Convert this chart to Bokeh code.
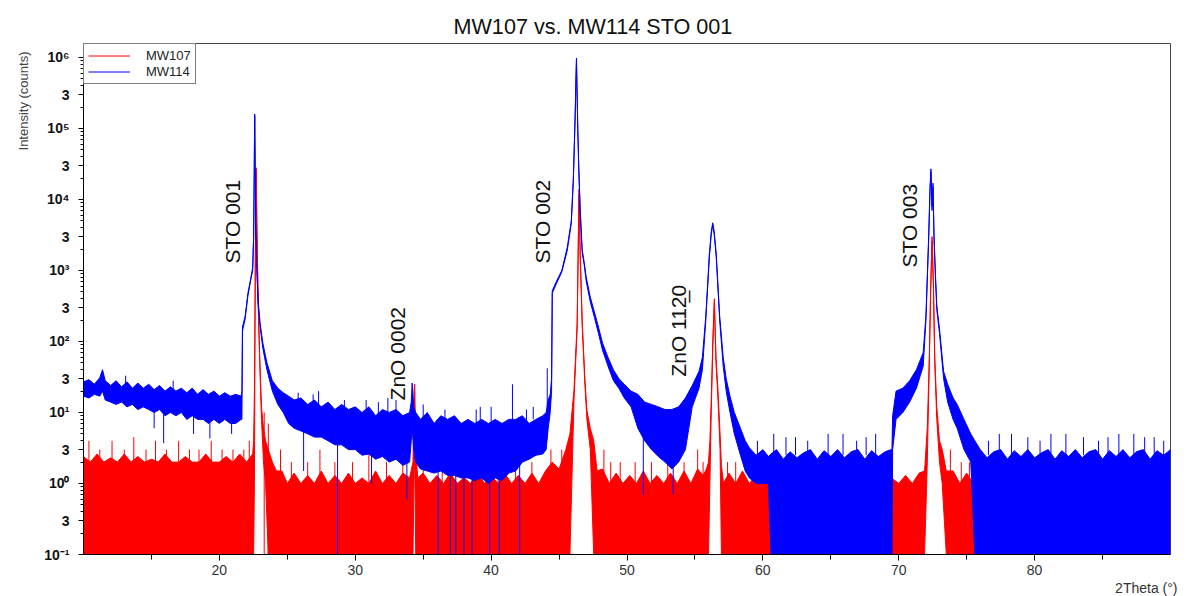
import math
from bokeh.plotting import figure
from bokeh.models import Range1d, FixedTicker, CustomJSTickFormatter, Label, Legend, LegendItem, Title
from bokeh.embed import file_html
from bokeh.resources import INLINE

FONT = "Liberation Sans"
TITLE = "MW107 vs. MW114 STO 001"
Y_LABEL = "Intensity (counts)"
X_LABEL = "2Theta (\u00b0)"
SERIES = ["MW107", "MW114"]

# ---------------- MW114 (blue): noise envelope (lo/hi) ----------------
mw114_x = [
    10.0, 10.4, 10.8, 11.2, 11.4, 11.6, 12.0, 12.4, 12.8, 13.2, 13.6, 14.0, 14.4, 14.8, 15.2, 15.6,
    16.0, 16.4, 16.8, 17.2, 17.6, 18.0, 18.4, 18.8, 19.2, 19.6, 20.0, 20.4, 20.8, 21.2, 21.6,
    21.66, 21.70, 21.9, 22.1, 22.3, 22.45, 22.52, 22.56, 22.60, 22.64, 22.68, 22.75, 22.85, 23.0,
    23.2, 23.5, 23.9, 24.3, 24.7,
    25.1, 25.5, 26.0, 26.5, 27.0, 27.5, 28.0, 28.5, 29.0, 29.5, 30.0, 30.5, 31.0, 31.5, 32.0, 32.5,
    33.0, 33.5, 34.0, 34.12, 34.19, 34.3, 34.45, 34.8, 35.3, 35.8, 36.3, 36.8, 37.3, 37.8, 38.3,
    38.8, 39.3, 39.8, 40.3, 40.8, 41.3, 41.8, 42.3, 42.8, 43.3, 43.8, 44.05,
    44.2, 44.35, 44.45, 44.5, 44.8, 45.2, 45.6, 45.9, 46.05, 46.18, 46.24, 46.28, 46.32, 46.38,
    46.45, 46.55, 46.7, 46.85, 47.0, 47.3, 47.6, 47.9, 48.2, 48.6, 49.0, 49.4, 49.8, 50.3, 50.8,
    51.3, 51.8, 52.3, 52.8, 53.3, 53.8,
    54.3, 54.8, 55.3, 55.55, 55.8, 56.06, 56.2, 56.31, 56.42, 56.57, 56.82, 57.08, 57.3, 57.58,
    57.9, 58.35, 58.7,
    59.0, 59.5, 60.0, 60.4, 60.6, 61.0, 61.5, 62.0, 62.5, 63.0, 63.5, 64.0, 64.5, 65.0, 65.5, 66.0,
    66.5, 67.0, 67.5, 68.0, 68.5, 69.0, 69.45,
    69.5, 69.55, 69.8, 70.3, 70.8, 71.3, 71.8, 72.0, 72.2, 72.3, 72.37, 72.45, 72.52, 72.6, 72.7,
    72.8, 73.0, 73.3, 73.6, 74.0, 74.3, 74.8, 75.3, 75.6,
    76.0, 76.5, 77.0, 77.5, 78.0, 78.5, 79.0, 79.5, 80.0, 80.5, 81.0, 81.5, 82.0, 82.5, 83.0, 83.5,
    84.0, 84.5, 85.0, 85.5, 86.0, 86.5, 87.0, 87.5, 88.0, 88.5, 89.0, 89.5, 90.0,
]
mw114_hi = [
    27, 29, 25, 31, 40, 28, 24, 28, 23, 27, 22, 26, 22, 25, 21, 24,
    20, 23, 20, 22, 19, 22, 18, 21, 18, 20, 17, 19, 17, 18, 17,
    20, 160, 230, 480, 760, 1100, 3000, 2e4, 1.6e5, 2.5e4, 4500, 1200, 380, 180,
    95, 50, 28, 22, 19,
    17, 15, 16, 13, 15, 12, 14, 11, 13, 11, 12, 10, 12, 9, 11, 10,
    11, 9, 10, 14, 26, 12, 10, 8, 10, 7, 9, 8, 9, 7, 8,
    7, 8, 7, 8, 7, 8, 8, 9, 7, 8, 9, 10,
    15, 18, 30, 520, 700, 1000, 2100, 5000, 2e4, 1.5e5, 5e5, 9.8e5, 4e5, 1e5,
    3e4, 8000, 2000, 1300, 800, 420, 260, 160, 95, 60, 40, 30, 25, 20, 18,
    14, 13, 12, 11, 11, 12,
    16, 24, 38, 60, 230, 1700, 3500, 4700, 3500, 1700, 230, 60, 30, 17,
    10, 6, 4,
    3.2, 2.5, 3, 2.4, 2.6, 3, 2.2, 2.8, 2.3, 2.7, 3, 2.2, 2.9, 2.4, 3, 2.3,
    2.8, 3, 2.2, 2.9, 2.4, 2.8, 3,
    3, 9, 20, 22, 28, 40, 70, 230, 3000, 1.5e4, 2.7e4, 8000, 1.7e4, 3000, 900,
    320, 150, 38, 25, 16, 13, 8, 5, 4,
    3, 2.3, 2.8, 3, 2.2, 2.9, 2.4, 3, 2.3, 2.7, 3, 2.2, 2.9, 2.4, 3, 2.3,
    2.8, 3, 2.2, 2.9, 2.4, 3, 2.3, 2.8, 3, 2.2, 2.9, 2.5, 3,
]
mw114_lo = [
    17, 16, 18, 17, 20, 15, 14, 13, 14, 12, 13, 11, 12, 11, 10, 11,
    9, 10, 9, 10, 8, 9, 8, 8, 7, 8, 7, 8, 7, 7, 8,
    8, 140, 210, 440, 720, 1000, 2800, 1.8e4, 1.5e5, 2.2e4, 4000, 1100, 340, 160,
    80, 40, 20, 13, 10,
    7, 6, 5.5, 5, 4.5, 4.5, 4, 3.5, 3.5, 3, 3, 2.5, 2.6, 2.2, 2.4, 2,
    2.2, 1.8, 2, 4, 6, 3, 2, 1.6, 1.5, 1.4, 1.5, 1.3, 1.3, 1.2, 1.2,
    1.1, 1.2, 1, 1.2, 1.1, 1.4, 1.5, 2, 2.2, 2.5, 2.6, 3,
    6, 10, 20, 480, 650, 950, 1900, 4600, 1.8e4, 1.3e5, 4e5, 9e5, 3.5e5, 9e4,
    2.6e4, 7000, 1800, 1200, 700, 360, 220, 130, 75, 45, 28, 22, 16, 12, 6,
    4, 3, 2.4, 2, 1.6, 2,
    3, 12, 22, 40, 200, 1500, 3200, 4400, 3200, 1500, 200, 45, 20, 10,
    5, 2.5, 1.5,
    1.2, 1, 1, 1, 0.1, 0.1, 0.1, 0.1, 0.1, 0.1, 0.1, 0.1, 0.1, 0.1, 0.1, 0.1,
    0.1, 0.1, 0.1, 0.1, 0.1, 0.1, 0.1,
    0.1, 3, 8, 10, 14, 22, 45, 200, 2600, 1.3e4, 2.4e4, 7000, 1.5e4, 2600, 800,
    280, 130, 30, 14, 8, 6, 3, 2, 0.1,
    0.1, 0.1, 0.1, 0.1, 0.1, 0.1, 0.1, 0.1, 0.1, 0.1, 0.1, 0.1, 0.1, 0.1, 0.1, 0.1,
    0.1, 0.1, 0.1, 0.1, 0.1, 0.1, 0.1, 0.1, 0.1, 0.1, 0.1, 0.1, 0.1,
]
# single-channel spikes of MW114
mw114_spike_x = [13.1, 15.2, 15.9, 16.6, 18.1, 19.3, 20.9, 27.3, 28.7, 30.8, 32.4, 35.0, 36.1,
                 37.0, 37.4, 38.0, 38.6, 39.2, 39.9, 40.6, 41.57, 42.1, 43.1, 44.13, 51.2, 53.4,
                 60.8, 62.4, 64.8, 66.9, 68.3, 77.4, 79.5, 81.2, 83.6, 86.2, 88.1, 89.5,
                 25.8, 26.9, 29.2, 31.7, 33.0, 36.6, 38.9, 40.0, 42.6, 26.2, 31.2, 33.8,
                 59.6, 61.7, 63.3, 65.9, 67.6, 76.6, 78.3, 80.4, 82.3, 84.7, 85.4, 87.3, 88.8]
mw114_spike_lo = [25, 6, 3.7, 20, 5, 4.3, 5, 12, 0.1, 10, 9, 8, 0.1,
                  0.1, 0.1, 0.1, 0.1, 7, 0.1, 0.1, 6, 0.1, 8, 8, 0.7, 0.7,
                  2.5, 2.5, 2.5, 2.5, 2.5, 2.5, 2.5, 2.5, 2.5, 2.5, 2.5, 2.5,
                  8, 6, 5, 4, 4, 3, 3, 3, 3, 1.5, 1.0, 0.6,
                  2.5, 2.5, 2.5, 2.5, 2.5, 2.5, 2.5, 2.5, 2.5, 2.5, 2.5, 2.5, 2.5]
mw114_spike_hi = [33, 21, 20, 28, 18, 17, 16, 20, 8, 15, 16, 13, 6,
                  5, 6, 5, 6, 12, 5, 6, 25, 5, 12, 42, 5, 4,
                  5, 4.5, 5, 4, 5, 5, 4.5, 5, 4.5, 5, 4.5, 4,
                  19, 18, 15, 14, 15, 11, 11, 12, 11, 6, 3, 3,
                  4, 4.5, 4, 5, 4.5, 4, 5, 4, 5, 4, 4.5, 5, 4.5]

# ---------------- MW107 (red) ----------------
mw107_x = [
    10.0, 10.5, 11.0, 11.5, 12.0, 12.5, 13.0, 13.5, 14.0, 14.5, 15.0, 15.5, 16.0, 16.5, 17.0, 17.5,
    18.0, 18.5, 19.0, 19.5, 20.0, 20.5, 21.0, 21.5, 22.0, 22.45,
    22.52, 22.58, 22.63, 22.67, 22.71, 22.75, 22.8, 22.87, 22.97, 23.1, 23.25, 23.4, 23.6, 23.9, 24.2,
    24.6, 25.0, 25.5, 26.0, 26.5, 27.0, 27.5, 28.0, 28.5, 29.0, 29.5, 30.0, 30.5, 31.0, 31.5, 32.0,
    32.5, 33.0, 33.5, 34.0, 34.25, 34.33, 34.38, 34.45, 34.6, 35.0, 35.5, 36.0, 36.5, 37.0, 37.5,
    38.0, 38.5, 39.0, 39.5, 40.0, 40.5, 41.0, 41.5, 42.0, 42.5, 43.0, 43.5, 44.0, 44.5, 45.0, 45.5,
    45.8, 46.1, 46.33, 46.42, 46.47, 46.55, 46.7, 46.9, 47.05, 47.3, 47.55, 47.8,
    48.2, 48.7, 49.2, 49.7, 50.2, 50.7, 51.2, 51.7, 52.2, 52.7, 53.2, 53.7, 54.2, 54.7, 55.2, 55.6,
    55.85,
    56.0, 56.1, 56.2, 56.32, 56.43, 56.55, 56.7, 56.85, 56.95, 57.1,
    57.5, 58.0, 58.5, 59.0, 59.5, 60.0, 61.0, 62.0, 63.0, 64.0, 65.0, 66.0, 67.0, 68.0, 69.0, 70.0,
    70.5, 71.0, 71.5, 71.9,
    72.1, 72.25, 72.35, 72.45, 72.55, 72.65, 72.8, 73.0, 73.2, 73.5,
    74.0, 74.5, 75.0, 75.5, 76.0, 77.0, 78.0, 79.0, 80.0, 81.0, 82.0, 83.0, 84.0, 85.0, 86.0, 87.0,
    88.0, 89.0, 90.0,
]
mw107_hi = [
    2.4, 2, 2.6, 2, 2.3, 2, 2.6, 2, 2.4, 2, 2.2, 2, 2.6, 2, 2, 2.4,
    2, 2, 2.6, 2, 2, 2.4, 2, 2.6, 2, 2.6,
    4, 20, 500, 8000, 2.8e4, 6000, 1500, 300, 60, 12, 6, 4, 3, 2, 1.5,
    1.5, 1, 1.4, 1, 1.3, 1, 1.5, 1, 1.3, 1, 1.4, 1, 1.2, 1, 1.5, 1,
    1.3, 1, 1.4, 1.2, 2, 20, 25, 3, 1.2, 1.4, 1, 1.3, 1, 1.4, 1,
    1.2, 1, 1.5, 1, 1.3, 1, 1.4, 1, 1.3, 1, 1.4, 1, 1.5, 2, 1.6, 3,
    5, 21, 180, 3000, 1.4e4, 2000, 200, 30, 10.7, 6, 4, 1.5,
    1.6, 1, 1.4, 1, 1.3, 1, 1.5, 1, 1.3, 1, 1.4, 1, 1.5, 1, 1.6, 1.3,
    1.6,
    2, 4, 15, 110, 400, 60, 20, 5, 1.8, 1,
    1.4, 1, 1.5, 1, 1.3, 1, 1.4, 1, 1.3, 1, 1.5, 1, 1.3, 1, 1.4, 1,
    1.3, 1, 1.4, 1.5,
    6, 60, 600, 3000, 700, 60, 12, 4, 3, 1.5,
    1.5, 1, 1.4, 1, 1.3, 1, 1.4, 1, 1.3, 1, 1.4, 1, 1.3, 1, 1.4, 1,
    1.3, 1, 1.2,
]
mw107_lo = [
    0.1, 0.1, 0.1, 0.1, 0.1, 0.1, 0.1, 0.1, 0.1, 0.1, 0.1, 0.1, 0.1, 0.1, 0.1, 0.1,
    0.1, 0.1, 0.1, 0.1, 0.1, 0.1, 0.1, 0.1, 0.1, 0.1,
    0.1, 1, 300, 7000, 2.5e4, 5000, 1300, 250, 50, 8, 2, 1, 0.1, 0.1, 0.1,
    0.1, 0.1, 0.1, 0.1, 0.1, 0.1, 0.1, 0.1, 0.1, 0.1, 0.1, 0.1, 0.1, 0.1, 0.1, 0.1,
    0.1, 0.1, 0.1, 0.1, 0.1, 1.5, 2, 0.1, 0.1, 0.1, 0.1, 0.1, 0.1, 0.1, 0.1,
    0.1, 0.1, 0.1, 0.1, 0.1, 0.1, 0.1, 0.1, 0.1, 0.1, 0.1, 0.1, 0.1, 0.1, 0.1, 0.1,
    0.1, 15, 150, 2500, 1.2e4, 1700, 170, 25, 8, 3, 0.1, 0.1,
    0.1, 0.1, 0.1, 0.1, 0.1, 0.1, 0.1, 0.1, 0.1, 0.1, 0.1, 0.1, 0.1, 0.1, 0.1, 0.1,
    0.1,
    0.1, 1, 10, 90, 350, 50, 15, 3, 0.1, 0.1,
    0.1, 0.1, 0.1, 0.1, 0.1, 0.1, 0.1, 0.1, 0.1, 0.1, 0.1, 0.1, 0.1, 0.1, 0.1, 0.1,
    0.1, 0.1, 0.1, 0.1,
    2, 50, 500, 2600, 600, 50, 8, 2, 1, 0.1,
    0.1, 0.1, 0.1, 0.1, 0.1, 0.1, 0.1, 0.1, 0.1, 0.1, 0.1, 0.1, 0.1, 0.1, 0.1, 0.1,
    0.1, 0.1, 0.1,
]
mw107_spike_x = [10.4, 11.2, 12.1, 13.0, 13.7, 14.6, 15.3, 16.1, 17.0, 17.8, 18.5, 19.4, 20.2,
                 21.0, 21.8, 22.2, 23.3, 23.6, 24.5, 25.3, 26.5, 27.4, 28.5, 29.8, 31.0, 32.3,
                 33.5, 35.0, 36.4, 37.9, 39.2, 40.5, 41.8, 43.0, 44.4, 45.2, 48.3, 48.8, 49.5,
                 50.6, 51.8, 53.0, 54.2, 55.2, 55.6, 57.4, 58.0, 59.2, 73.8, 74.6, 75.2]
mw107_spike_hi = [4, 3, 4, 3, 4.5, 3, 4, 3, 4, 3, 3, 4, 3,
                  3, 3, 4, 10, 7, 3, 2, 2, 3, 2, 2, 3, 2,
                  2, 2, 2, 2, 3, 2, 2, 2, 3, 3, 3, 2, 2,
                  2, 2, 2, 2, 3, 2, 2, 2, 2, 3, 2, 2]

# peak annotations (text, x position, y of text start)
peak_labels = ["STO 001", "ZnO 0002", "STO 002", "ZnO 112\u03320", "STO 003"]
peak_label_x = [20.93, 33.08, 43.75, 53.78, 70.78]
peak_label_y = [1256, 14.8, 1256, 32, 1100]

X_START, X_END = 10.0, 90.0
Y_START, Y_END = 0.1, 1.574e6
FLOOR = Y_START
X_TICKS = [20, 30, 40, 50, 60, 70, 80]
X_MINOR = [15, 25, 35, 45, 55, 65, 75, 85]
Y_TICKS = [0.1, 0.3, 1, 3, 10, 30, 100, 300, 1e3, 3e3, 1e4, 3e4, 1e5, 3e5, 1e6]
Y_MINOR = [m * 10.0 ** e for e in range(-1, 7) for m in (2, 4, 5, 6, 7, 8, 9) if m * 10.0 ** e <= Y_END]

RED = "#ff0000"
BLUE = "#0000ff"

p = figure(width=1186, height=596, x_range=Range1d(X_START, X_END), y_range=Range1d(Y_START, Y_END),
           y_axis_type="log", output_backend="svg", toolbar_location=None,
           min_border_left=83, min_border_right=16, min_border_top=43, min_border_bottom=42,
           background_fill_color="white", border_fill_color="white")

p.title.text = TITLE
p.title.align = "left"
p.title.offset = 370
p.title.text_font = FONT
p.title.text_font_size = "21.6px"
p.title.text_font_style = "normal"
p.title.text_color = "#111111"

p.xgrid.visible = False
p.ygrid.visible = False
p.outline_line_color = "#444444"
p.outline_line_width = 1

# ---- series
p.varea(x=mw107_x, y1=mw107_lo, y2=mw107_hi, fill_color=RED)
r107 = p.line(mw107_x, mw107_hi, line_color=RED, line_width=1)
p.line(mw107_x, mw107_lo, line_color=RED, line_width=1)
p.segment(x0=mw107_spike_x, x1=mw107_spike_x, y0=[FLOOR] * len(mw107_spike_x), y1=mw107_spike_hi,
          line_color=RED, line_width=1)

p.varea(x=mw114_x, y1=mw114_lo, y2=mw114_hi, fill_color=BLUE)
r114 = p.line(mw114_x, mw114_hi, line_color=BLUE, line_width=1)
p.line(mw114_x, mw114_lo, line_color=BLUE, line_width=1)
p.segment(x0=mw114_spike_x, x1=mw114_spike_x, y0=mw114_spike_lo, y1=mw114_spike_hi,
          line_color=BLUE, line_width=1)

# ---- axes
xa = p.xaxis[0]
xa.ticker = FixedTicker(ticks=X_TICKS, minor_ticks=X_MINOR)
xa.major_tick_in = 0
xa.major_tick_out = 6
xa.minor_tick_in = 0
xa.minor_tick_out = 5
xa.axis_line_color = "black"
xa.major_tick_line_color = "black"
xa.minor_tick_line_color = "black"
xa.major_label_text_font = FONT
xa.major_label_text_font_size = "14px"
xa.major_label_text_color = "#333333"
xa.major_label_standoff = 4

ya = p.yaxis[0]
ya.ticker = FixedTicker(ticks=Y_TICKS, minor_ticks=Y_MINOR)
ya.formatter = CustomJSTickFormatter(code=r"""
const sup = {"-": "\u207b", "0": "\u2070", "1": "\u00b9", "2": "\u00b2", "3": "\u00b3",
             "4": "\u2074", "5": "\u2075", "6": "\u2076", "7": "\u2077", "8": "\u2078", "9": "\u2079"};
const e = Math.floor(Math.log10(tick) + 1e-9);
const m = Math.round(tick / Math.pow(10, e));
if (m !== 1) { return String(m); }
let s = "";
for (const c of String(e)) { s += sup[c]; }
return "10" + s;
""")
ya.major_tick_in = 0
ya.major_tick_out = 5
ya.minor_tick_in = 0
ya.minor_tick_out = 3
ya.axis_line_color = "black"
ya.major_tick_line_color = "black"
ya.minor_tick_line_color = "black"
ya.major_label_text_font = FONT
ya.major_label_text_font_size = "14px"
ya.major_label_text_font_style = "bold"
ya.major_label_text_color = "#111111"
ya.major_label_standoff = 9

# axis titles placed in the side panels (outside the frame)
p.add_layout(Title(text=Y_LABEL, align="right", offset=8, standoff=22, text_font=FONT,
                   text_font_size="13px", text_font_style="normal", text_color="#444444"), "left")
p.add_layout(Title(text=X_LABEL, align="right", offset=-7, standoff=0, text_font=FONT,
                   text_font_size="14px", text_font_style="normal", text_color="#333333"), "below")

for t, lx, ly in zip(peak_labels, peak_label_x, peak_label_y):
    p.add_layout(Label(x=lx, y=ly, angle=math.pi / 2, text=t, text_align="left",
                       text_baseline="middle", text_font=FONT, text_font_size="21px",
                       text_color="#111111"))

legend = Legend(items=[LegendItem(label=SERIES[0], renderers=[r107]),
                       LegendItem(label=SERIES[1], renderers=[r114])],
                location="top_left", margin=0, padding=4, spacing=1,
                glyph_width=42, glyph_height=15, label_height=15, label_standoff=16,
                label_text_font=FONT, label_text_font_size="13px", label_text_color="#222222",
                border_line_color="black", border_line_width=1,
                background_fill_color="white", background_fill_alpha=1.0)
p.add_layout(legend)

with open("out.html", "w", encoding="utf-8") as f:
    f.write(file_html(p, INLINE))
